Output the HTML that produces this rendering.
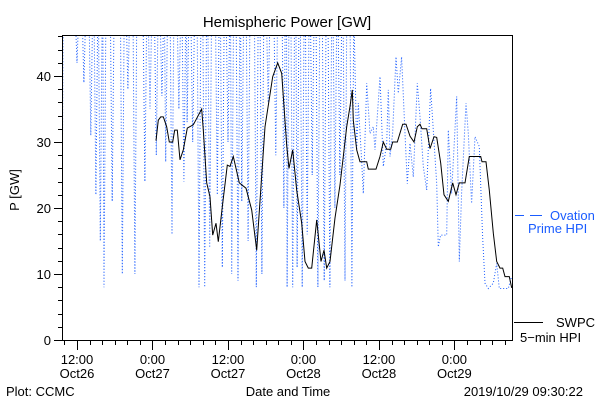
<!DOCTYPE html>
<html><head><meta charset="utf-8"><style>
body{margin:0;background:#fff;}
svg{display:block;font-family:"Liberation Sans",sans-serif;}
</style></head><body>
<svg id="chart" width="600" height="400" viewBox="0 0 600 400" xmlns="http://www.w3.org/2000/svg">
<defs><clipPath id="plotclip"><rect x="62" y="35" width="451" height="306"/></clipPath></defs>
<text x="287" y="27" font-size="15" text-anchor="middle">Hemispheric Power [GW]</text>
<text transform="translate(19,190) rotate(-90)" font-size="13" text-anchor="middle">P [GW]</text>
<g id="yticks"></g>
<g id="xticks"></g>
<g id="series" clip-path="url(#plotclip)"></g>
<rect x="62.5" y="35.5" width="450" height="305" fill="none" stroke="#000" stroke-width="1"/>
<text x="288" y="396" font-size="13" text-anchor="middle">Date and Time</text>
<text x="6" y="396" font-size="13">Plot: CCMC</text>
<text x="583" y="396" font-size="13" text-anchor="end">2019/10/29 09:30:22</text>
<g>
<line x1="515" y1="215.5" x2="524" y2="215.5" stroke="#1a5cff" stroke-width="1"/>
<line x1="530" y1="215.5" x2="542" y2="215.5" stroke="#1a5cff" stroke-width="1"/>
<text x="550" y="220" font-size="13" fill="#1a5cff">Ovation</text>
<text x="528" y="233" font-size="13" fill="#1a5cff">Prime HPI</text>
</g>
<g>
<line x1="514" y1="322.5" x2="543" y2="322.5" stroke="#000" stroke-width="1"/>
<text x="556" y="327" font-size="13">SWPC</text>
<text x="520" y="342" font-size="13">5−min HPI</text>
</g>
</svg>
<script>
const yTicks=[0,10,20,30,40];
const xTickHours=[12,24,36,48,60,72];
const xTickTop=["12:00","0:00","12:00","0:00","12:00","0:00"];
const xTickBottom=["Oct26","Oct27","Oct27","Oct28","Oct28","Oct29"];
const swpcHours=[24.56,24.93,25.31,25.72,26.26,26.67,27.21,27.53,27.95,28.38,28.9,29.54,30.49,31.83,32.08,32.62,33.14,33.57,34.1,34.46,35.16,35.9,36.32,36.85,37.8,38.87,39.77,40.57,41.89,43.11,43.91,44.54,45.34,45.7,46.29,46.93,47.72,48.25,48.77,49.31,50.11,50.79,51.27,51.7,52.22,53.02,53.81,54.34,54.88,55.4,55.77,55.93,56.47,56.99,58.06,58.31,59.54,60.17,60.7,61.24,61.87,62.19,62.92,63.78,64.31,64.94,65.58,66.1,66.53,66.85,67.6,68.12,68.76,69.19,69.82,70.35,71.03,71.73,72.25,72.78,73.69,74.37,76.18,76.39,77.02,77.55,78.19,78.73,79.25,79.68,80.05,80.73,81.11];
const swpcValues=[30.2,33.3,33.8,33.8,32.3,30,30,31.8,31.8,27.3,28.8,32.1,32.6,35,31.8,23.8,21.7,15.9,17.7,14.9,20.7,26.5,26.3,27.8,23.8,23,19.7,13.6,32.3,39.9,42,40.4,29.5,26,28.8,22.7,17.7,11.9,10.9,10.9,18.2,11.9,13.6,10.9,11.9,18.5,23.5,27.8,32.3,35.4,37.9,33.3,28.8,27,27,25.9,25.9,27.8,30,28.9,28.9,30,30,32.7,32.7,30.9,30,32.3,32.7,32,32,29,30.8,30.7,26.8,22,21,23.8,22,23.8,23.8,27.8,27.8,27,27,22.7,16.2,11.9,10.9,10.9,9.6,9.6,7.9];
const ovationHours=[9.6,9.8,11.7,12.0,12.3,12.8,13.1,13.4,13.9,14.2,14.5,14.7,15.0,15.3,15.4,15.7,16.0,16.1,16.3,16.6,17.3,17.6,17.9,18.9,19.2,19.5,19.8,20.1,20.4,20.9,21.2,21.5,22.5,22.8,23.1,23.3,23.6,23.9,24.3,24.6,24.9,25.2,25.5,25.8,25.9,26.1,26.4,26.8,27.1,27.4,27.9,28.2,28.5,28.7,29.0,29.3,29.4,29.5,29.8,30.1,30.4,30.7,31.1,31.4,31.7,32.0,32.3,32.6,32.8,33.1,33.4,34.0,34.3,34.6,34.8,35.1,35.4,35.7,36.0,36.3,36.4,36.6,36.9,37.3,37.6,37.9,38.0,38.2,38.5,38.9,39.2,39.5,40.2,40.5,40.8,41.1,41.4,41.7,42.1,42.4,42.7,43.3,43.6,43.9,44.6,44.9,45.1,45.3,45.4,45.7,46.0,46.3,46.6,46.8,47.0,47.3,47.5,47.8,48.1,48.3,48.6,48.9,49.1,49.4,49.7,50.0,50.3,50.6,51.0,51.3,51.6,51.9,52.2,52.5,52.7,53.0,53.3,53.5,53.8,54.1,54.3,54.6,54.9,55.4,55.7,56.0,56.46,56.72,57.25,57.52,58.05,58.58,59.11,59.37,60.17,60.7,61.23,61.49,61.76,62.18,62.71,63.08,63.61,64.14,64.51,64.94,65.47,66.1,66.53,67.06,67.59,68.22,68.65,69.18,69.44,69.81,70.77,71.03,71.56,72.36,72.78,73.15,73.84,74.21,74.74,75.27,75.96,76.49,76.86,77.39,78.19,78.72,79.14,80.57,81.1];
const ovationValues=[13,50,50,42,50,50,39,50,50,31,50,50,22,50,50,15,50,50,8,50,50,21,50,50,10,50,50,38,50,50,10,50,50,24,50,50,35,50,50,28,50,50,37,50,50,27,50,50,16,50,50,35,50,50,24,50,50,33,50,50,30,50,50,8,50,50,8,50,50,14,50,50,22,50,50,11,50,50,30,50,50,10,50,50,9,50,50,21,50,50,15,50,50,8,50,50,10,50,50,36,50,50,28,50,50,20,50,50,8,50,50,8,50,50,11,50,50,8,50,50,16,50,50,25,50,50,8,50,50,9,50,50,8,50,50,20,50,50,25,50,50,9,50,50,8,50,28.8,35.9,27.3,22.2,38.9,31.3,32.3,28.8,39.9,26.3,29.8,37.9,27.8,31.3,42.9,37.4,42.9,31.3,23.7,29.8,24.7,38.9,33.8,26.3,22.7,38.1,31.8,23.7,14.1,15.9,15.9,31.8,22.2,36.9,11.9,22.2,35.9,31.3,20.7,30.8,29.3,15.7,8.6,7.8,8.6,11.6,7.8,7.8,9.6];

const NS="http://www.w3.org/2000/svg";
const L=62,R=513,T=35,B=341;
function xs(h){return 77+(h-12)*6.29;}
function ys(v){return 340-v*6.6;}
function mk(tag,attrs,parent){const e=document.createElementNS(NS,tag);for(const k in attrs)e.setAttribute(k,attrs[k]);parent.appendChild(e);return e;}

const yg=document.getElementById('yticks');
for(let v=0;v<=46;v+=2){
  const major=v%10===0;
  const y=Math.round(ys(v))+0.5;
  const t=mk('line',{x1:L-(major?8:4),x2:L,y1:y,y2:y,stroke:'#000'},yg);
  
  
}
yTicks.forEach(v=>{
  const t=mk('text',{x:L-11,y:ys(v)+5,'font-size':13,'text-anchor':'end'},yg);
  
  
  t.textContent=String(v);
});
const xg=document.getElementById('xticks');
for(let h=10;h<=81;h+=2){
  const x=Math.round(xs(h))+0.5; if(x<L||x>R)continue;
  const major=h%12===0;
  const t=mk('line',{x1:x,x2:x,y1:B,y2:B+(major?9:4),stroke:'#000'},xg);
  
  
}
xTickHours.forEach((h,i)=>{
  const a=mk('text',{x:xs(h),y:364,'font-size':13,'text-anchor':'middle'},xg);
  
  
  a.textContent=xTickTop[i];
  const b=mk('text',{x:xs(h),y:378,'font-size':13,'text-anchor':'middle'},xg);
  
  
  b.textContent=xTickBottom[i];
});
const sg=document.getElementById('series');
const op=mk('polyline',{points:ovationHours.map((h,i)=>xs(h).toFixed(1)+','+ys(ovationValues[i]).toFixed(1)).join(' '),fill:'none',stroke:'#1a5cff','stroke-width':1,'stroke-dasharray':'1 2'},sg);


const sp=mk('polyline',{points:swpcHours.map((h,i)=>xs(h).toFixed(1)+','+ys(swpcValues[i]).toFixed(1)).join(' '),fill:'none',stroke:'#000','stroke-width':1},sg);


</script>
</body></html>
